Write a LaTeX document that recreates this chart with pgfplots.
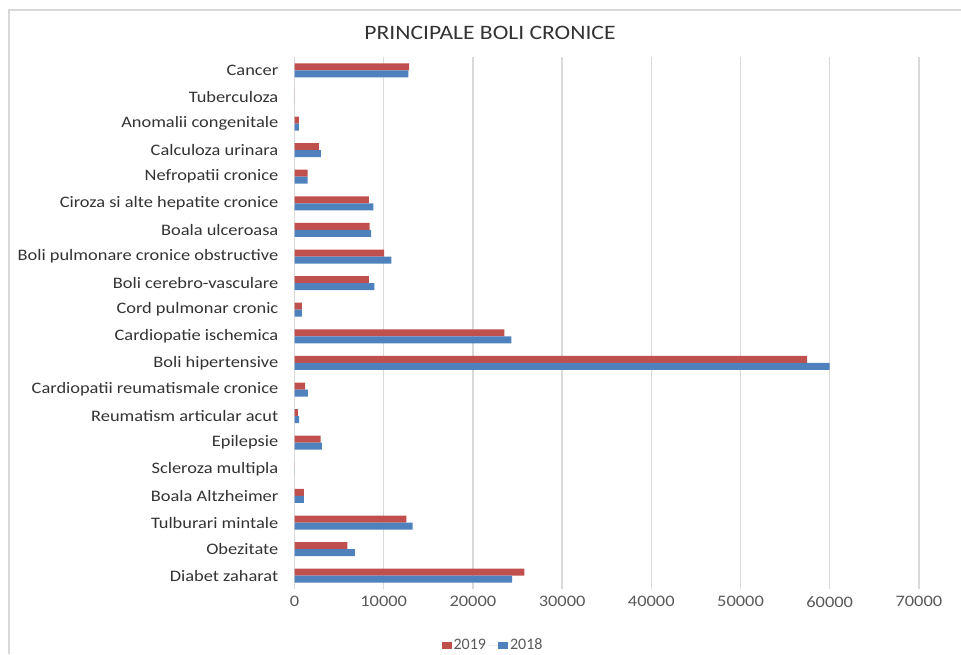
\documentclass[border=0pt]{standalone}
\usepackage{pgfplots}
\pgfplotsset{compat=1.18}
\usepackage{fontspec}
\setmainfont{Carlito}[FakeStretch=1.15]
\newfontfamily\plainfont{Carlito}
\definecolor{red19}{HTML}{C0504D}
\definecolor{blue18}{HTML}{4F81BD}
\definecolor{gridgray}{HTML}{D9D9D9}
\definecolor{txtgray}{HTML}{595959}
\begin{document}
\begin{tikzpicture}[x=1pt,y=1pt]
\useasboundingbox (0,0) rectangle (961,-654);
\draw[gridgray, line width=1.5pt] (9,-654) -- (9,-10) -- (961,-10);
\node[font=\fontsize{20.5}{24}\selectfont, text=black!80] at (490,-33) {PRINCIPALE BOLI CRONICE};
\begin{axis}[
    at={(294.5pt,-589pt)}, anchor=south west,
    scale only axis,
    width=624.4pt, height=532pt,
    xmin=0, xmax=70000,
    ymin=-0.5, ymax=19.5,
    xtick={0,10000,...,70000},
    ytick={0,...,19},
    yticklabels={Diabet zaharat, Obezitate, Tulburari mintale, Boala Altzheimer,
        Scleroza multipla, Epilepsie, Reumatism articular acut,
        Cardiopatii reumatismale cronice, Boli hipertensive, Cardiopatie ischemica,
        Cord pulmonar cronic, Boli cerebro-vasculare, Boli pulmonare cronice obstructive,
        Boala ulceroasa, Ciroza si alte hepatite cronice, Nefropatii cronice,
        Calculoza urinara, Anomalii congenitale, Tuberculoza, Cancer},
    scaled x ticks=false,
    /pgf/number format/assume math mode=true,
    xticklabel={\pgfmathprintnumber[fixed,1000 sep={}]{\tick}},
    xticklabel style={font=\fontsize{16}{18}\selectfont, text=txtgray, yshift=-4pt},
    yticklabel style={font=\fontsize{16}{18}\selectfont, text=black!80, anchor=east, inner sep=0pt, xshift=-16pt},
    axis line style={draw=none},
    major tick length=0pt,
    xmajorgrids,
    grid style={gridgray, line width=1.5pt},
    xbar, bar width=7pt,
    legend style={at={(0.318,0)}, anchor=center, yshift=-56pt, draw=none,
        legend columns=-1, font=\plainfont\fontsize{16}{18}\selectfont, text=txtgray},
    legend image code/.code={\fill[#1] (0pt,-3.5pt) rectangle (10pt,3.5pt);},
]
\addplot[draw=none, fill=red19, bar shift=3.5pt] coordinates {
    (25760,0) (5940,1) (12550,2) (1040,3) (0,4) (2930,5) (370,6) (1180,7)
    (57460,8) (23520,9) (820,10) (8350,11) (10040,12) (8430,13) (8350,14)
    (1460,15) (2730,16) (480,17) (0,18) (12850,19)
};
\addlegendentry{2019}
\addplot[draw=none, fill=blue18, bar shift=-3.5pt,
    legend image code/.code={\path (0pt,0pt) -- (10pt,0pt);
        \fill[blue18] (10pt,-3.5pt) rectangle (20pt,3.5pt);}] coordinates {
    (24400,0) (6760,1) (13230,2) (1040,3) (0,4) (3080,5) (510,6) (1490,7)
    (60000,8) (24300,9) (820,10) (8950,11) (10860,12) (8580,13) (8840,14)
    (1460,15) (2960,16) (480,17) (0,18) (12780,19)
};
\addlegendentry{2018}
\end{axis}
\end{tikzpicture}
\end{document}
